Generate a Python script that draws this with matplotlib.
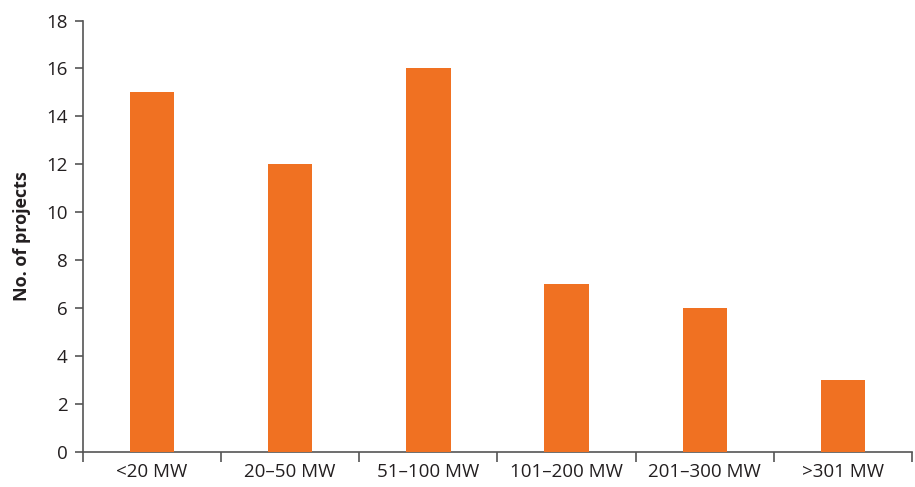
import matplotlib
matplotlib.use("Agg")
import matplotlib.pyplot as plt
import numpy as np

categories = ["<20 MW", "20–50 MW", "51–100 MW", "101–200 MW", "201–300 MW", ">301 MW"]
values = [15, 12, 16, 7, 6, 3]
yticks = [0, 2, 4, 6, 8, 10, 12, 14, 16, 18]

plt.rcParams['font.family'] = ['Open Sans', 'DejaVu Sans']
fig = plt.figure(figsize=(9.15, 4.87), dpi=100)
ax = fig.add_axes([83/915, 1-452/487, (912-83)/915, (452-20.5)/487])

x = np.arange(len(categories))
ax.bar(x, values, width=0.32, color="#F07122", zorder=3)
ax.set_xlim(-0.5, len(categories) - 0.5)
ax.set_ylim(0, 18)
ax.set_yticks(yticks)
ax.set_yticklabels([str(t) for t in yticks], fontsize=13.5, color="#231f20")

axc = "#555555"
for s in ["top", "right"]:
    ax.spines[s].set_visible(False)
for s in ["left", "bottom"]:
    ax.spines[s].set_color(axc)
    ax.spines[s].set_linewidth(1.2)

ax.set_xticks(np.arange(len(categories) + 1) - 0.5)
ax.set_xticklabels([])
ax.set_xticks(x, minor=True)
ax.set_xticklabels(categories, minor=True, fontsize=13.5, color="#231f20")
ax.tick_params(axis="x", which="major", length=7, width=1.2, color=axc, direction="out")
ax.tick_params(axis="x", which="minor", length=0, pad=8)
ax.tick_params(axis="y", length=6, width=1.2, color=axc, direction="out", pad=5)

ax.set_ylabel("No. of projects", fontsize=13, fontweight="bold", color="#231f20", labelpad=11)

fig.savefig("out.png", dpi=100)
